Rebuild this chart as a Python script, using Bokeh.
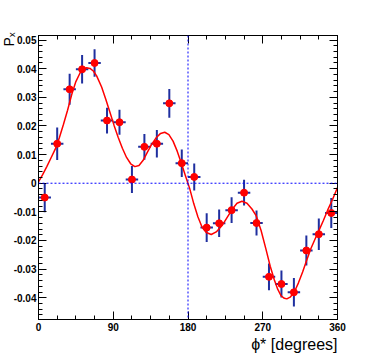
import numpy as np
from bokeh.plotting import figure
from bokeh.models import Range1d, FixedTicker, LinearAxis, Span, Title
from bokeh.embed import file_html
from bokeh.resources import INLINE

# ---- data ----
phi_centers = [7.5, 22.5, 37.5, 52.5, 67.5, 82.5, 97.5, 112.5, 127.5, 142.5, 157.5, 172.5,
               187.5, 202.5, 217.5, 232.5, 247.5, 262.5, 277.5, 292.5, 307.5, 322.5, 337.5, 352.5]
px_values = [-0.0050, 0.0138, 0.0328, 0.0398, 0.0420, 0.0219, 0.0213, 0.0013, 0.0127, 0.0138, 0.0279, 0.0070,
             0.0022, -0.0155, -0.0140, -0.0094, -0.0033, -0.0139, -0.0327, -0.0352, -0.0381, -0.0235, -0.0178, -0.0104]
px_errors = [0.0051, 0.0057, 0.0054, 0.0050, 0.0048, 0.0045, 0.0044, 0.0047, 0.0045, 0.0048, 0.0050, 0.0048,
             0.0047, 0.0050, 0.0048, 0.0045, 0.0045, 0.0044, 0.0047, 0.0047, 0.0050, 0.0052, 0.0055, 0.0052]
bin_half_widths = [7.5] * 24

fit_phi = [0, 5, 10, 15, 20, 25, 30, 35, 40, 45, 50, 55, 58, 62, 66, 70, 76, 81, 86, 91, 96, 101, 106, 111,
           116, 121, 126, 131, 136, 142, 147, 152, 157, 162, 167, 172, 177, 182, 187, 192, 197, 202, 208, 214,
           221, 227, 233, 239, 245, 251, 257, 262, 268, 274, 279, 284, 288, 292, 296, 299, 303, 308, 313, 318,
           323, 328, 333, 338, 343, 348, 354, 360]
fit_px = [0.0005, 0.0030, 0.0058, 0.0088, 0.0118, 0.0158, 0.0205, 0.0255, 0.0310, 0.0355, 0.0385, 0.0401,
          0.0403, 0.0401, 0.0392, 0.0375, 0.0336, 0.0293, 0.0248, 0.0202, 0.0160, 0.0122, 0.0090, 0.0068,
          0.0058, 0.0062, 0.0080, 0.0108, 0.0135, 0.0160, 0.0174, 0.0178, 0.0170, 0.0147, 0.0112, 0.0070,
          0.0025, -0.0018, -0.0072, -0.0118, -0.0154, -0.0172, -0.0179, -0.0170, -0.0148, -0.0120, -0.0092,
          -0.0070, -0.0063, -0.0070, -0.0090, -0.0113, -0.0165, -0.0232, -0.0290, -0.0338, -0.0370, -0.0393,
          -0.0402, -0.0404, -0.0398, -0.0380, -0.0348, -0.0310, -0.0268, -0.0228, -0.0195, -0.0163, -0.0130,
          -0.0095, -0.0057, -0.0015]

x_ticks = [0, 90, 180, 270, 360]
x_tick_labels = ["0", "90", "180", "270", "360"]
y_ticks = [-0.04, -0.03, -0.02, -0.01, 0, 0.01, 0.02, 0.03, 0.04, 0.05]
y_tick_labels = ["-0.04", "-0.03", "-0.02", "-0.01", "0", "0.01", "0.02", "0.03", "0.04", "0.05"]

x_title = "\u03d5* [degrees]"
y_title = "P\u2093"

# ---- styling ----
RED = "#ff0000"
ERR_BLUE = "#1f2f9f"
LINE_BLUE = "#0000ff"
FONT = "Liberation Sans"

x_minor = list(np.arange(0, 360.01, 22.5))
y_minor = list(np.round(np.arange(-0.046, 0.0516, 0.002), 4))

p = figure(width=374, height=359, x_range=Range1d(0, 360), y_range=Range1d(-0.0476, 0.0516),
           output_backend="svg", toolbar_location=None,
           min_border_left=38, min_border_right=37, min_border_top=35, min_border_bottom=40)
p.xgrid.visible = False
p.ygrid.visible = False
p.outline_line_color = "black"
p.outline_line_width = 1
p.background_fill_color = "white"
p.border_fill_color = "white"

def style_axis(ax, ticks, minor, labels, show_labels, major_len):
    ax.ticker = FixedTicker(ticks=ticks, minor_ticks=minor)
    ax.major_tick_in = major_len
    ax.major_tick_out = 0
    ax.minor_tick_in = 4
    ax.minor_tick_out = 0
    ax.major_tick_line_color = "black"
    ax.minor_tick_line_color = "black"
    ax.axis_line_color = "black"
    if show_labels:
        ax.major_label_overrides = {t: l for t, l in zip(ticks, labels)}
        ax.major_label_text_font = FONT
        ax.major_label_text_font_style = "bold"
        ax.major_label_text_font_size = "10px"
        ax.major_label_text_color = "black"
    else:
        ax.major_label_text_color = None
        ax.major_label_text_font_size = "1px"

style_axis(p.xaxis[0], x_ticks, x_minor, x_tick_labels, True, 8)
p.xaxis[0].major_label_standoff = 3
style_axis(p.yaxis[0], y_ticks, y_minor, y_tick_labels, True, 8)
p.yaxis[0].major_label_standoff = 2

top_axis = LinearAxis()
style_axis(top_axis, x_ticks, x_minor, x_tick_labels, False, 8)
p.add_layout(top_axis, "above")
right_axis = LinearAxis()
style_axis(right_axis, y_ticks, y_minor, y_tick_labels, False, 8)
p.add_layout(right_axis, "right")

# axis titles (ROOT style: aligned to the axis ends)
p.add_layout(Title(text=x_title, align="right", text_font=FONT, text_font_size="16px",
                   text_font_style="normal", text_color="black", standoff=0, offset=0), "below")
p.add_layout(Title(text=y_title, align="right", text_font=FONT, text_font_size="14px",
                   text_font_style="normal", text_color="black", standoff=-12, offset=-3), "left")

# dashed reference lines
p.add_layout(Span(location=0, dimension="width", line_color=LINE_BLUE, line_dash="2 2", line_width=1))
p.add_layout(Span(location=180, dimension="height", line_color=LINE_BLUE, line_dash="2 2", line_width=1))

x = np.array(phi_centers)
y = np.array(px_values)
ey = np.array(px_errors)
ex = np.array(bin_half_widths)

p.segment(x0=x, y0=y - ey, x1=x, y1=y + ey, line_color=ERR_BLUE, line_width=2)
p.segment(x0=x - ex, y0=y, x1=x + ex, y1=y, line_color=ERR_BLUE, line_width=2)
p.line(fit_phi, fit_px, line_color=RED, line_width=1.5)
p.scatter(x, y, size=7, marker="circle", fill_color=RED, line_color=RED)

open("out.html", "w").write(file_html(p, INLINE))
